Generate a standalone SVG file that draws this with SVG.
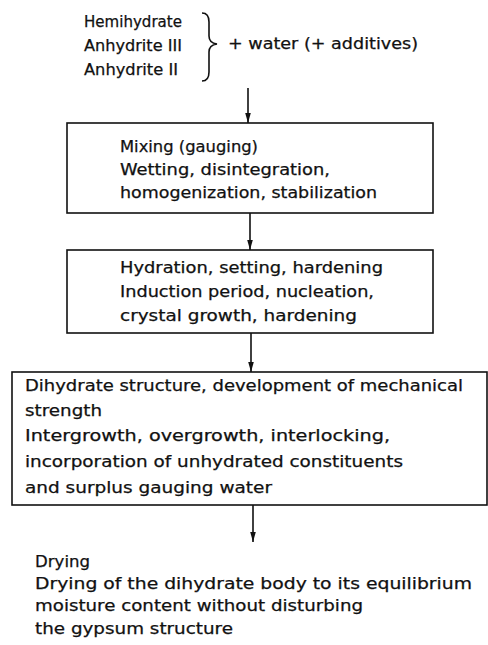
<svg xmlns="http://www.w3.org/2000/svg" width="488" height="645" viewBox="0 0 488 645">
<defs>
<marker id="ah" viewBox="0 0 10 10" refX="10" refY="5" markerWidth="10" markerHeight="10" orient="auto" markerUnits="userSpaceOnUse">
<path d="M0,2.2 L10,5 L0,7.8 z" fill="#111"/>
</marker>
<style>
text{font-family:"DejaVu Sans","Liberation Sans",sans-serif;font-size:15px;fill:#111;stroke:#111;stroke-width:0.25}
.big{font-size:15.5px}
.box{fill:none;stroke:#111;stroke-width:1.6}
.con{stroke:#111;stroke-width:1.6;fill:none}
</style>
</defs>
<rect width="488" height="645" fill="#fff"/>
<g id="inputs">
<text x="84" y="27" textLength="98" lengthAdjust="spacingAndGlyphs">Hemihydrate</text>
<text x="84" y="51" textLength="98" lengthAdjust="spacingAndGlyphs">Anhydrite III</text>
<text x="84" y="75" textLength="94" lengthAdjust="spacingAndGlyphs">Anhydrite II</text>
<path class="con" d="M202,13 Q209,13 209,22 L209,36 Q209,43 217,44 Q209,45 209,52 L209,72 Q209,81 202,81"/>
<text x="228" y="49" textLength="190" lengthAdjust="spacingAndGlyphs">+ water (+ additives)</text>
</g>
<g id="mixing">
<rect class="box" x="67" y="123" width="366" height="90"/>
<text x="120" y="152" textLength="138" lengthAdjust="spacingAndGlyphs">Mixing (gauging)</text>
<text x="120" y="175" textLength="210" lengthAdjust="spacingAndGlyphs">Wetting, disintegration,</text>
<text x="120" y="198" textLength="257" lengthAdjust="spacingAndGlyphs">homogenization, stabilization</text>
</g>
<g id="hydration">
<rect class="box" x="67" y="250" width="366" height="83"/>
<text x="120" y="273" textLength="263" lengthAdjust="spacingAndGlyphs">Hydration, setting, hardening</text>
<text x="120" y="297" textLength="254" lengthAdjust="spacingAndGlyphs">Induction period, nucleation,</text>
<text x="120" y="321" textLength="237" lengthAdjust="spacingAndGlyphs">crystal growth, hardening</text>
</g>
<g id="structure">
<rect class="box" x="12" y="372" width="475" height="133"/>
<text class="big" x="25" y="391" textLength="438" lengthAdjust="spacingAndGlyphs">Dihydrate structure, development of mechanical</text>
<text class="big" x="25" y="416" textLength="77" lengthAdjust="spacingAndGlyphs">strength</text>
<text class="big" x="25" y="441" textLength="365" lengthAdjust="spacingAndGlyphs">Intergrowth, overgrowth, interlocking,</text>
<text class="big" x="25" y="467" textLength="378" lengthAdjust="spacingAndGlyphs">incorporation of unhydrated constituents</text>
<text class="big" x="25" y="493" textLength="247" lengthAdjust="spacingAndGlyphs">and surplus gauging water</text>
</g>
<g id="drying">
<text class="big" x="35" y="567" textLength="55" lengthAdjust="spacingAndGlyphs">Drying</text>
<text class="big" x="35" y="589" textLength="437" lengthAdjust="spacingAndGlyphs">Drying of the dihydrate body to its equilibrium</text>
<text class="big" x="35" y="611" textLength="328" lengthAdjust="spacingAndGlyphs">moisture content without disturbing</text>
<text class="big" x="35" y="634" textLength="198" lengthAdjust="spacingAndGlyphs">the gypsum structure</text>
</g>
<g id="connectors">
<line class="con" x1="248" y1="88" x2="248" y2="123" marker-end="url(#ah)"/>
<line class="con" x1="250" y1="213" x2="250" y2="250" marker-end="url(#ah)"/>
<line class="con" x1="251" y1="333" x2="251" y2="372" marker-end="url(#ah)"/>
<line class="con" x1="253" y1="505" x2="253" y2="542" marker-end="url(#ah)"/>
</g>
</svg>
